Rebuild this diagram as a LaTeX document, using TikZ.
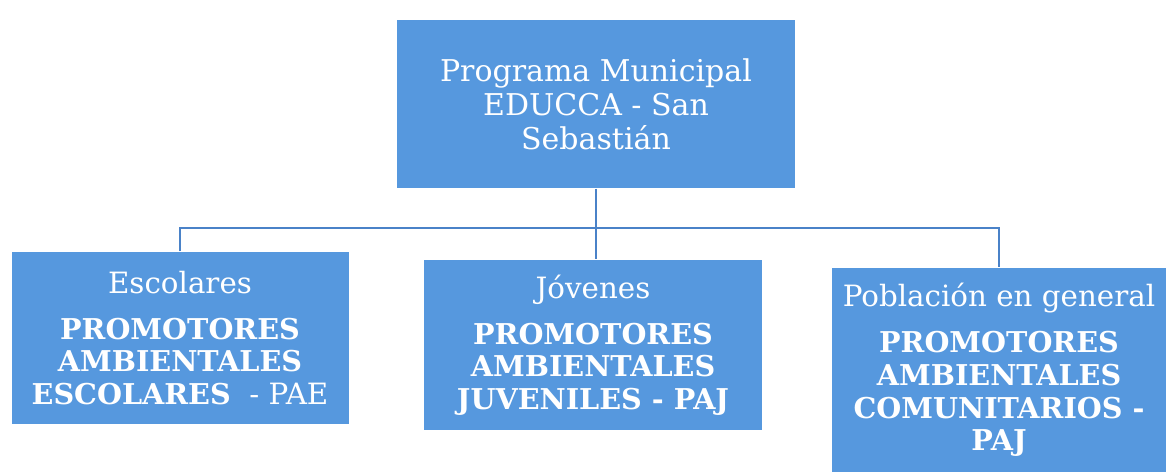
\documentclass[tikz,border=0pt]{standalone}
\usepackage{fontspec}
\setmainfont{DejaVu Serif}
\usetikzlibrary{positioning}
\definecolor{boxblue}{RGB}{86,152,222}
\definecolor{lineblue}{RGB}{74,130,200}

\begin{document}
\begin{tikzpicture}[x=0.75pt,y=-0.75pt]
\newcommand{\regtext}{\fontsize{22}{25.5}\selectfont\mdseries}
\newcommand{\boldtext}{\fontsize{21.5}{24.5}\selectfont\bfseries}
\tikzset{every path/.style={line width=1pt}}
\tikzset{unitbox/.style={fill=boxblue, text=white, align=center, inner sep=2pt, font=\boldtext}}
\tikzset{link/.style={draw=lineblue, line width=1.2pt}}

\useasboundingbox (0,0) rectangle (1166,472);

    \node[unitbox, minimum width=298.5pt, minimum height=126pt, font=\fontsize{22.5}{25.5}\selectfont] (top) at (596,104)
        {Programa Municipal\\EDUCCA - San\\Sebastián};

    \node[unitbox, minimum width=252.75pt, minimum height=129pt] (left) at (180,338)
        {{\regtext Escolares}\\[10pt]
         PROMOTORES\\AMBIENTALES\\ESCOLARES{\regtext\ \ - PAE}};

    \node[unitbox, minimum width=254pt, minimum height=127.5pt] (mid) at (593,345)
        {{\regtext Jóvenes}\\[10pt]
         PROMOTORES\\AMBIENTALES\\JUVENILES - PAJ};

    \node[unitbox, minimum width=250.5pt, minimum height=153pt] (right) at (999,370)
        {{\regtext Población en general}\\[10pt]
         PROMOTORES\\AMBIENTALES\\COMUNITARIOS -\\PAJ};

    \coordinate (hub) at (593,228);
    \draw[link] (top.south) -- (top.south |- mid.north);
    \draw[link] (left.north) -- (left.north |- hub) -- (right.north |- hub) -- (right.north);

\end{tikzpicture}
\end{document}
